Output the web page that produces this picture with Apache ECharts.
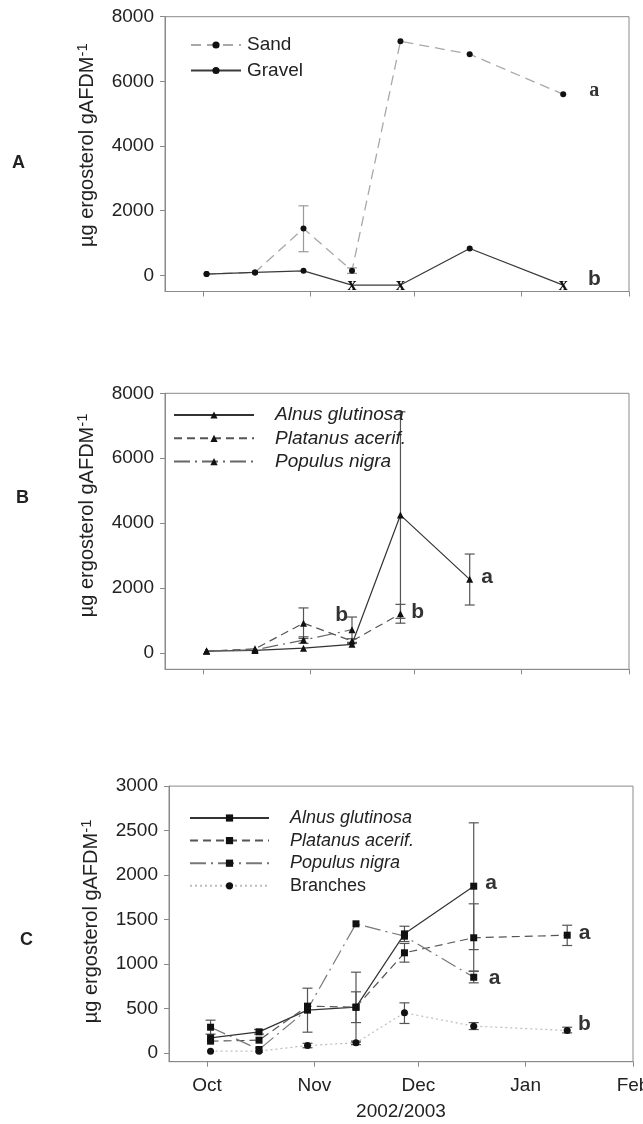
<!DOCTYPE html>
<html>
<head>
<meta charset="utf-8">
<script src="https://cdn.jsdelivr.net/npm/echarts@6/dist/echarts.min.js"></script>
<style>
  html, body { margin: 0; padding: 0; background: #fff; width: 643px; height: 1124px; overflow: hidden; }
  .panel { position: absolute; left: 0; top: 0; width: 643px; height: 1124px; }
</style>
</head>
<body>
<div id="panelA" class="panel"></div>
<div id="panelB" class="panel"></div>
<div id="panelC" class="panel"></div>
<script>
// ---- sampling dates and axis ticks ----
const sampleDates = ['2002-10-02', '2002-10-16', '2002-10-30', '2002-11-13', '2002-11-27', '2002-12-17', '2003-01-13'];
const monthStarts = ['2002-10-01', '2002-11-01', '2002-12-01', '2003-01-01', '2003-02-01'];
const monthLabels = ['Oct', 'Nov', 'Dec', 'Jan', 'Feb'];
const axisStart = '2002-09-20';
const axisEnd = '2003-02-01';
const yTicksAB = [0, 2000, 4000, 6000, 8000];
const yTicksC = [0, 500, 1000, 1500, 2000, 2500, 3000];

// ---- A: substrate (ergosterol, ug/g AFDM) ----
const sand = [40, 90, 1450, 140, 7240, 6840, 5600];
const sandErr = [null, null, [730, 2150], [60, 230], null, null, null];
const gravel = [40, 90, 140, 'x', 'x', 830, 'x'];   // 'x' = below detection
const ND_PLOT = -300;                               // plotting level for 'x'
const lettersA = [['2003-01-22', 5700, 'a', 'serif'], ['2003-01-22', -110, 'b', 'sans']];

// ---- B: leaf species ----
const alnusB = [60, 80, 150, 270, 4250, 2270, null];
const alnusBErr = [null, null, null, null, [1070, 7430], [1480, 3050], null];
const platanusB = [60, 130, 920, 370, 1210, null, null];
const platanusBErr = [null, null, [450, 1390], [300, 440], [920, 1500], null, null];
const populusB = [60, 100, 400, 720, null, null, null];
const populusBErr = [null, null, [300, 500], [330, 1110], null, null, null];
const lettersB = [['2002-11-10', 1162, 'b'], ['2002-12-02', 1264, 'b'], ['2002-12-22', 2325, 'a']];

// ---- C: leaf species and branches ----
const alnusC = [169, 236, 480, 513, 1338, 1874, null];
const alnusCErr = [null, [210, 262], [232, 727], [120, 907], [1252, 1424], [1161, 2587], null];
const platanusC = [131, 142, 525, 513, 1125, 1294, 1323];
const platanusCErr = [null, null, null, [340, 686], [1020, 1230], [920, 1676], [1207, 1435]];
const populusC = [288, 37, 487, 1451, 1312, 850, null];
const populusCErr = [[210, 367], null, null, null, null, [787, 915], null];
const branches = [18, 18, 82, 112, 450, 300, 251];
const branchesErr = [null, null, [57, 107], [92, 132], [330, 562], [262, 340], [224, 288]];
const lettersC = [['2002-12-22', 1913, 'a'], ['2003-01-18', 1350, 'a'], ['2002-12-23', 844, 'a'], ['2003-01-18', 318, 'b']];

// ---- helpers ----
const SANS = '"Liberation Sans", Arial, Helvetica, sans-serif';
const SERIF = '"Liberation Serif", "Times New Roman", serif';
const TEXT = '#222';
const FRAME = '#8a8a8a';

function day(s) {
  const p = s.split('-').map(Number);
  return new Date(p[0], p[1] - 1, p[2]).getTime();
}
const monthTicks = monthStarts.map(day);
const monthName = {};
monthTicks.forEach((t, i) => { monthName[t] = monthLabels[i]; });

// date axis drawn as a numeric (timestamp) axis with month-start ticks
function dateAxis(showLabels, name) {
  return {
    type: 'value',
    min: day(axisStart),
    max: day(axisEnd),
    splitLine: { show: false },
    axisLine: { show: true, onZero: false, lineStyle: { color: FRAME, width: 1 } },
    axisTick: { show: true, inside: false, length: 5, customValues: monthTicks, lineStyle: { color: FRAME } },
    axisLabel: {
      show: showLabels, customValues: monthTicks, margin: 15, hideOverlap: false,
      formatter: v => monthName[v] || '', fontSize: 19, color: TEXT, fontFamily: SANS
    },
    name: name || '',
    nameLocation: 'middle',
    nameGap: 41,
    nameTextStyle: { fontSize: 19, color: TEXT, fontFamily: SANS }
  };
}

function valueAxis(min, max, ticks, gap, shift) {
  return {
    type: 'value',
    min: min,
    max: max,
    splitLine: { show: false },
    axisLine: { show: true, onZero: false, lineStyle: { color: FRAME, width: 1 } },
    axisTick: { show: true, inside: false, length: 5, customValues: ticks, lineStyle: { color: FRAME } },
    axisLabel: { customValues: ticks, margin: 11, formatter: v => String(v), fontSize: 19, color: TEXT, fontFamily: SANS },
    name: 'µg ergosterol gAFDM{sup|-1}',
    nameLocation: 'middle',
    nameRotate: 90,
    nameGap: gap,
    nameTextStyle: {
      fontSize: 20, color: TEXT, fontFamily: SANS, lineHeight: 24,
      padding: [0, 0, 0, shift],
      rich: { sup: { fontSize: 15, fontFamily: SANS, color: TEXT, verticalAlign: 'top', lineHeight: 24, padding: [0, 0, 10, 0] } }
    }
  };
}

function panelTitle(letter, left, top) {
  return { text: letter, left: left, top: top, padding: 0, textStyle: { fontFamily: SANS, fontSize: 18, fontWeight: 'bold', color: TEXT } };
}

function plotGrid(left, right, top, height) {
  return { left: left, right: right, top: top, height: height, show: true, borderColor: FRAME, borderWidth: 1, containLabel: false, outerBoundsMode: 'none' };
}

function pairs(values) {
  return sampleDates.map((d, i) => [day(d), values[i]]).filter(p => p[1] !== null && p[1] !== undefined);
}

function lineSeries(name, values, symbol, size, lineColor, dash, width) {
  return {
    type: 'line', name: name, data: pairs(values),
    symbol: symbol, symbolSize: size,
    itemStyle: { color: '#111' },
    lineStyle: { color: lineColor, type: dash, width: width || 1.2 },
    emphasis: { disabled: true },
    z: 3
  };
}

function errorSeries(sets, color) {
  const data = [];
  sets.forEach(errs => errs.forEach((e, i) => { if (e) data.push([day(sampleDates[i]), e[0], e[1]]); }));
  return {
    type: 'custom', data: data, z: 2, silent: true,
    encode: { x: 0, y: [1, 2] },
    renderItem: function (params, api) {
      const lo = api.coord([api.value(0), api.value(1)]);
      const hi = api.coord([api.value(0), api.value(2)]);
      const w = 5;
      const style = { stroke: color, lineWidth: 1.2 };
      return {
        type: 'group',
        children: [
          { type: 'line', shape: { x1: lo[0], y1: lo[1], x2: hi[0], y2: hi[1] }, style: style },
          { type: 'line', shape: { x1: lo[0] - w, y1: lo[1], x2: lo[0] + w, y2: lo[1] }, style: style },
          { type: 'line', shape: { x1: hi[0] - w, y1: hi[1], x2: hi[0] + w, y2: hi[1] }, style: style }
        ]
      };
    }
  };
}

function letterSeries(letters) {
  return {
    type: 'scatter', silent: true, z: 5,
    symbolSize: 1, itemStyle: { color: 'rgba(0,0,0,0)' },
    data: letters.map(l => ({
      value: [day(l[0]), l[1]],
      label: {
        show: true, position: 'inside', formatter: l[2], color: '#000',
        fontFamily: l[3] === 'serif' ? SERIF : SANS, fontWeight: 'bold', fontSize: l[3] === 'serif' ? 20 : 21
      }
    }))
  };
}

function legend(names, left, top, gap, itemWidth, pad, fontSize, italic) {
  return {
    orient: 'vertical', left: left, top: top, itemGap: gap, padding: 0,
    itemWidth: itemWidth, itemHeight: 9,
    selectedMode: false,
    data: names.map((n, i) => ({ name: n, textStyle: { fontStyle: italic[i] ? 'italic' : 'normal' } })),
    textStyle: { fontFamily: SANS, fontSize: fontSize, color: TEXT, lineHeight: 20, padding: [0, 0, 0, pad] }
  };
}

// ---- panel A ----
const gravelData = sampleDates.map((d, i) => {
  if (gravel[i] === 'x') {
    return {
      value: [day(d), ND_PLOT], symbolSize: 1, itemStyle: { color: 'rgba(0,0,0,0)' },
      label: { show: true, position: 'inside', offset: [0, 0], formatter: 'x', fontFamily: SERIF, fontWeight: 'bold', fontSize: 18, color: '#111' }
    };
  }
  return [day(d), gravel[i]];
});

const optionA = {
  animation: false,
  title: panelTitle('A', 12, 154),
  grid: plotGrid(165, 14, 16.7, 274.8),
  xAxis: dateAxis(false),
  yAxis: valueAxis(-500, 8000, yTicksAB, 58, 18),
  legend: legend(['Sand', 'Gravel'], 190, 35, 5.5, 50, 1, 19, [false, false]),
  series: [
    errorSeries([sandErr], '#9a9a9a'),
    lineSeries('Sand', sand, 'circle', 6, '#a8a8a8', [10, 6], 1.3),
    Object.assign(lineSeries('Gravel', gravel.map(v => v === 'x' ? ND_PLOT : v), 'circle', 6, '#3a3a3a', 'solid', 1.3), { data: gravelData }),
    letterSeries(lettersA)
  ]
};

// ---- panel B ----
const optionB = {
  animation: false,
  title: panelTitle('B', 16, 489),
  grid: plotGrid(165, 14, 393.3, 276),
  xAxis: dateAxis(false),
  yAxis: valueAxis(-500, 8000, yTicksAB, 58, 32),
  legend: legend(['Alnus glutinosa', 'Platanus acerif.', 'Populus nigra'], 173, 405, 3.3, 80, 16, 19, [true, true, true]),
  series: [
    errorSeries([alnusBErr, platanusBErr, populusBErr], '#555'),
    lineSeries('Alnus glutinosa', alnusB, 'triangle', 7, '#333', 'solid'),
    lineSeries('Platanus acerif.', platanusB, 'triangle', 7, '#555', [8, 5]),
    lineSeries('Populus nigra', populusB, 'triangle', 7, '#666', [16, 5, 2, 5]),
    letterSeries(lettersB)
  ]
};

// ---- panel C ----
const optionC = {
  animation: false,
  title: panelTitle('C', 20, 931),
  grid: plotGrid(169, 10, 786.1, 275.6),
  xAxis: dateAxis(true, '2002/2003'),
  yAxis: valueAxis(-100, 3000, yTicksC, 62, 5),
  legend: legend(['Alnus glutinosa', 'Platanus acerif.', 'Populus nigra', 'Branches'], 189, 808, 2.6, 79, 16, 18, [true, true, true, false]),
  series: [
    errorSeries([alnusCErr, platanusCErr, populusCErr, branchesErr], '#555'),
    lineSeries('Alnus glutinosa', alnusC, 'rect', 7, '#333', 'solid'),
    lineSeries('Platanus acerif.', platanusC, 'rect', 7, '#555', [8, 5]),
    lineSeries('Populus nigra', populusC, 'rect', 7, '#777', [16, 5, 2, 5]),
    lineSeries('Branches', branches, 'circle', 7, '#bdbdbd', [2, 3]),
    letterSeries(lettersC)
  ]
};

echarts.init(document.getElementById('panelA'), null, { renderer: 'canvas' }).setOption(optionA);
echarts.init(document.getElementById('panelB'), null, { renderer: 'canvas' }).setOption(optionB);
echarts.init(document.getElementById('panelC'), null, { renderer: 'canvas' }).setOption(optionC);
</script>
</body>
</html>
